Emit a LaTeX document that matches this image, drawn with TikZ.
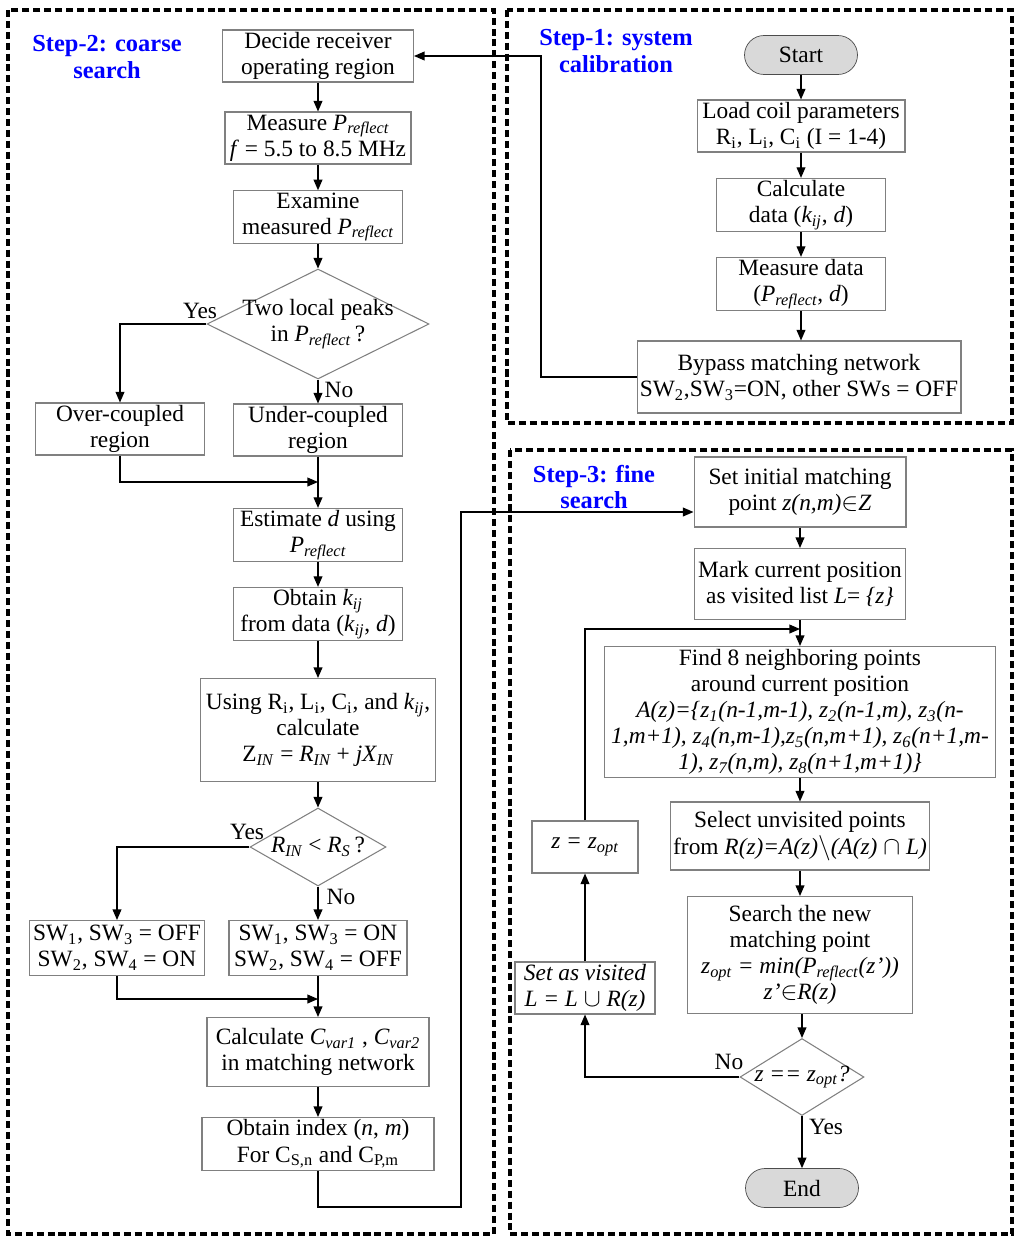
\documentclass[tikz,border=0pt]{standalone}
\usepackage{fontspec}
\setmainfont{Liberation Serif}
\usetikzlibrary{shapes.geometric,arrows.meta}

\newcommand{\Pref}{\textit{P\textsubscript{reflect}}}

\begin{document}
\begin{tikzpicture}
  [x=0.02cm,y=-0.02cm,
   every node/.style={font=\fontsize{13.3}{14.9}\selectfont,align=center,inner sep=1pt},
   box/.style={draw=gray,line width=0.6pt,minimum height=1.04cm},
   decision/.style={diamond,draw=gray,line width=0.6pt,inner sep=0pt},
   terminal/.style={draw=black!70,fill=gray!30,rounded corners=0.39cm,minimum width=2.26cm,minimum height=0.78cm},
   title/.style={text=blue,font=\fontsize{13.9}{15.3}\selectfont\bfseries},
   arrow/.style={-{Triangle[length=6pt,width=5pt]},line width=0.7pt},
   panel/.style={dash pattern=on 4pt off 2.2pt,line width=1.9pt}] % pixel-like units, y runs down
    \useasboundingbox (0,0) rectangle (1024,1244);

    % step 2
    \node[title] (t2) at (107,57) {Step-2: coarse\\search};
    \node[box,minimum width=3.82cm] (decide) at (318,56) {Decide receiver\\operating region};
    \node[box,minimum width=3.72cm] (measure) at (318,138) {Measure \Pref\\\textit{f} = 5.5 to 8.5 MHz};
    \node[box,minimum width=3.38cm] (examine) at (318,217) {Examine\\measured \Pref};
    \node[decision,minimum width=4.44cm,minimum height=2.2cm] (peaks) at (318,324) {};
    \node (peakstxt) at (peaks) {Two local peaks\\in \Pref\,?};
    \node[box,minimum width=3.38cm] (over) at (120,429) {Over-coupled\\region};
    \node[box,minimum width=3.38cm] (under) at (318,430) {Under-coupled\\region};
    \coordinate (join1) at (318,482);
    \node[box,minimum width=3.38cm] (estimate) at (318,535) {Estimate \textit{d} using\\\Pref};
    \node[box,minimum width=3.38cm] (obtain) at (318,614) {Obtain \textit{k\textsubscript{ij}}\\from data (\textit{k\textsubscript{ij}}, \textit{d})};
    \node[box,minimum width=4.7cm,minimum height=2.06cm] (using) at (318,730)
      {Using R\textsubscript{i}, L\textsubscript{i}, C\textsubscript{i}, and \textit{k\textsubscript{ij}},\\calculate\\Z\textsubscript{\textit{IN}} = \textit{R\textsubscript{IN}} + \textit{jX\textsubscript{IN}}};
    \node[decision,minimum width=2.72cm,minimum height=1.56cm] (rin) at (318,847) {};
    \node (rintxt) at (rin) {\textit{R\textsubscript{IN}} < \textit{R\textsubscript{S}}\,?};
    \node[box,minimum width=3.5cm,minimum height=1.1cm] (swoff) at (117,948) {SW\textsubscript{1}, SW\textsubscript{3} = OFF\\SW\textsubscript{2}, SW\textsubscript{4} = ON};
    \node[box,minimum width=3.56cm,minimum height=1.1cm] (swon) at (318,948) {SW\textsubscript{1}, SW\textsubscript{3} = ON\\SW\textsubscript{2}, SW\textsubscript{4} = OFF};
    \coordinate (join2) at (318,999);
    \node[box,minimum width=4.44cm,minimum height=1.38cm] (cvar) at (318,1052) {Calculate \textit{C\textsubscript{var1}} , \textit{C\textsubscript{var2}}\\in matching network};
    \node[box,minimum width=4.64cm,minimum height=1.06cm] (index) at (318,1144) {Obtain index (\textit{n}, \textit{m})\\For C\textsubscript{S,n} and C\textsubscript{P,m}};
    \coordinate (c1) at (461,1207);
    \coordinate (c2) at (461,512);

    \node (yes1) at (200,311) {Yes};
    \node (no1) at (339,390) {No};
    \node (yes2) at (247,832) {Yes};
    \node (no2) at (341,897) {No};

    \draw[arrow] (decide) -- (measure);
    \draw[arrow] (measure) -- (examine);
    \draw[arrow] (examine) -- (peaks);
    \draw[arrow] (peaks.west) -| (over.north);
    \draw[arrow] (peaks) -- (under);
    \draw[arrow] (over.south) |- (join1);
    \draw[arrow] (under) -- (estimate);
    \draw[arrow] (estimate) -- (obtain);
    \draw[arrow] (obtain) -- (using);
    \draw[arrow] (using) -- (rin);
    \draw[arrow] (rin.west) -| (swoff.north);
    \draw[arrow] (rin) -- (swon);
    \draw[arrow] (swoff.south) |- (join2);
    \draw[arrow] (swon) -- (cvar);
    \draw[arrow] (cvar) -- (index);

    % step 1
    \node[title] (t1) at (616,51) {Step-1: system\\calibration};
    \node[terminal] (start) at (801,55) {Start};
    \node[box,minimum width=4.16cm] (load) at (801,126) {Load coil parameters\\R\textsubscript{i}, L\textsubscript{i}, C\textsubscript{i} (I = 1-4)};
    \node[box,minimum width=3.38cm] (calcdata) at (801,205) {Calculate\\data (\textit{k\textsubscript{ij}}, \textit{d})};
    \node[box,minimum width=3.38cm] (measdata) at (801,284) {Measure data\\(\Pref, \textit{d})};
    \node[box,minimum width=6.48cm,minimum height=1.44cm] (bypass) at (799,377) {Bypass matching network\\SW\textsubscript{2},SW\textsubscript{3}=ON, other SWs = OFF};
    \coordinate (c3) at (541,56);

    \draw[arrow] (start) -- (load);
    \draw[arrow] (load) -- (calcdata);
    \draw[arrow] (calcdata) -- (measdata);
    \draw[arrow] (measdata) -- (measdata |- bypass.north);
    \draw[arrow] (bypass.west) -| (c3) -- (decide.east);

    % step 3
    \node[title] (t3) at (594,487) {Step-3: fine\\search};
    \node[box,minimum width=4.24cm,minimum height=1.4cm] (init) at (800,492) {Set initial matching\\point \textit{z(n,m)}$\in$\textit{Z}};
    \node[box,minimum width=4.22cm,minimum height=1.42cm] (mark) at (800,584) {Mark current position\\as visited list \textit{L}= \textit{\{z\}}};
    \coordinate (c4) at (800,629);
    \node[box,minimum width=7.82cm,minimum height=2.62cm] (find) at (800,712)
      {Find 8 neighboring points\\around current position\\
       \textit{A(z)=\{z\textsubscript{1}(n-1,m-1), z\textsubscript{2}(n-1,m), z\textsubscript{3}(n-}\\
       \textit{1,m+1), z\textsubscript{4}(n,m-1),z\textsubscript{5}(n,m+1), z\textsubscript{6}(n+1,m-}\\
       \textit{1), z\textsubscript{7}(n,m), z\textsubscript{8}(n+1,m+1)\}}};
    \node[box,minimum width=5.18cm,minimum height=1.36cm] (select) at (800,836) {Select unvisited points\\from \textit{R(z)=A(z)}$\backslash$\textit{(A(z)} $\cap$ \textit{L)}};
    \node[box,minimum width=4.5cm,minimum height=2.34cm] (search) at (800,955) {Search the new\\matching point\\\textit{z\textsubscript{opt} = min(\Pref(z’))}\\\textit{z’}$\in$\textit{R(z)}};
    \node[decision,minimum width=2.48cm,minimum height=1.54cm] (same) at (802,1077) {};
    \node (sametxt) at (same) {\textit{z == z\textsubscript{opt}?}};
    \node[terminal] (end) at (802,1188) {End};
    \node[box,minimum width=2.12cm] (zbox) at (585,847) {\textit{z = z\textsubscript{opt}}};
    \node[box,minimum width=2.8cm] (visited) at (585,988) {\textit{Set as visited}\\\textit{L = L} $\cup$ \textit{R(z)}};

    \node (no3) at (729,1062) {No};
    \node (yes3) at (826,1127) {Yes};

    \draw[arrow] (init) -- (mark);
    \draw[arrow] (mark) -- (find);
    \draw[arrow] (find) -- (select);
    \draw[arrow] (select) -- (search);
    \draw[arrow] (search.south -| same) -- (same);
    \draw[arrow] (same) -- (end);
    \draw[arrow] (same.west) -| (visited.south);
    \draw[arrow] (visited) -- (zbox);
    \draw[arrow] (zbox.north) |- (c4);
    \draw[arrow] (index.south) |- (c1) -- (c2) -- (init.west |- c2);

    % dashed panels
    \draw[panel] (8,10) rectangle (494,1234);
    \draw[panel] (507,10) rectangle (1012,423);
    \draw[panel] (510,450) rectangle (1012,1234);

\end{tikzpicture}
\end{document}
